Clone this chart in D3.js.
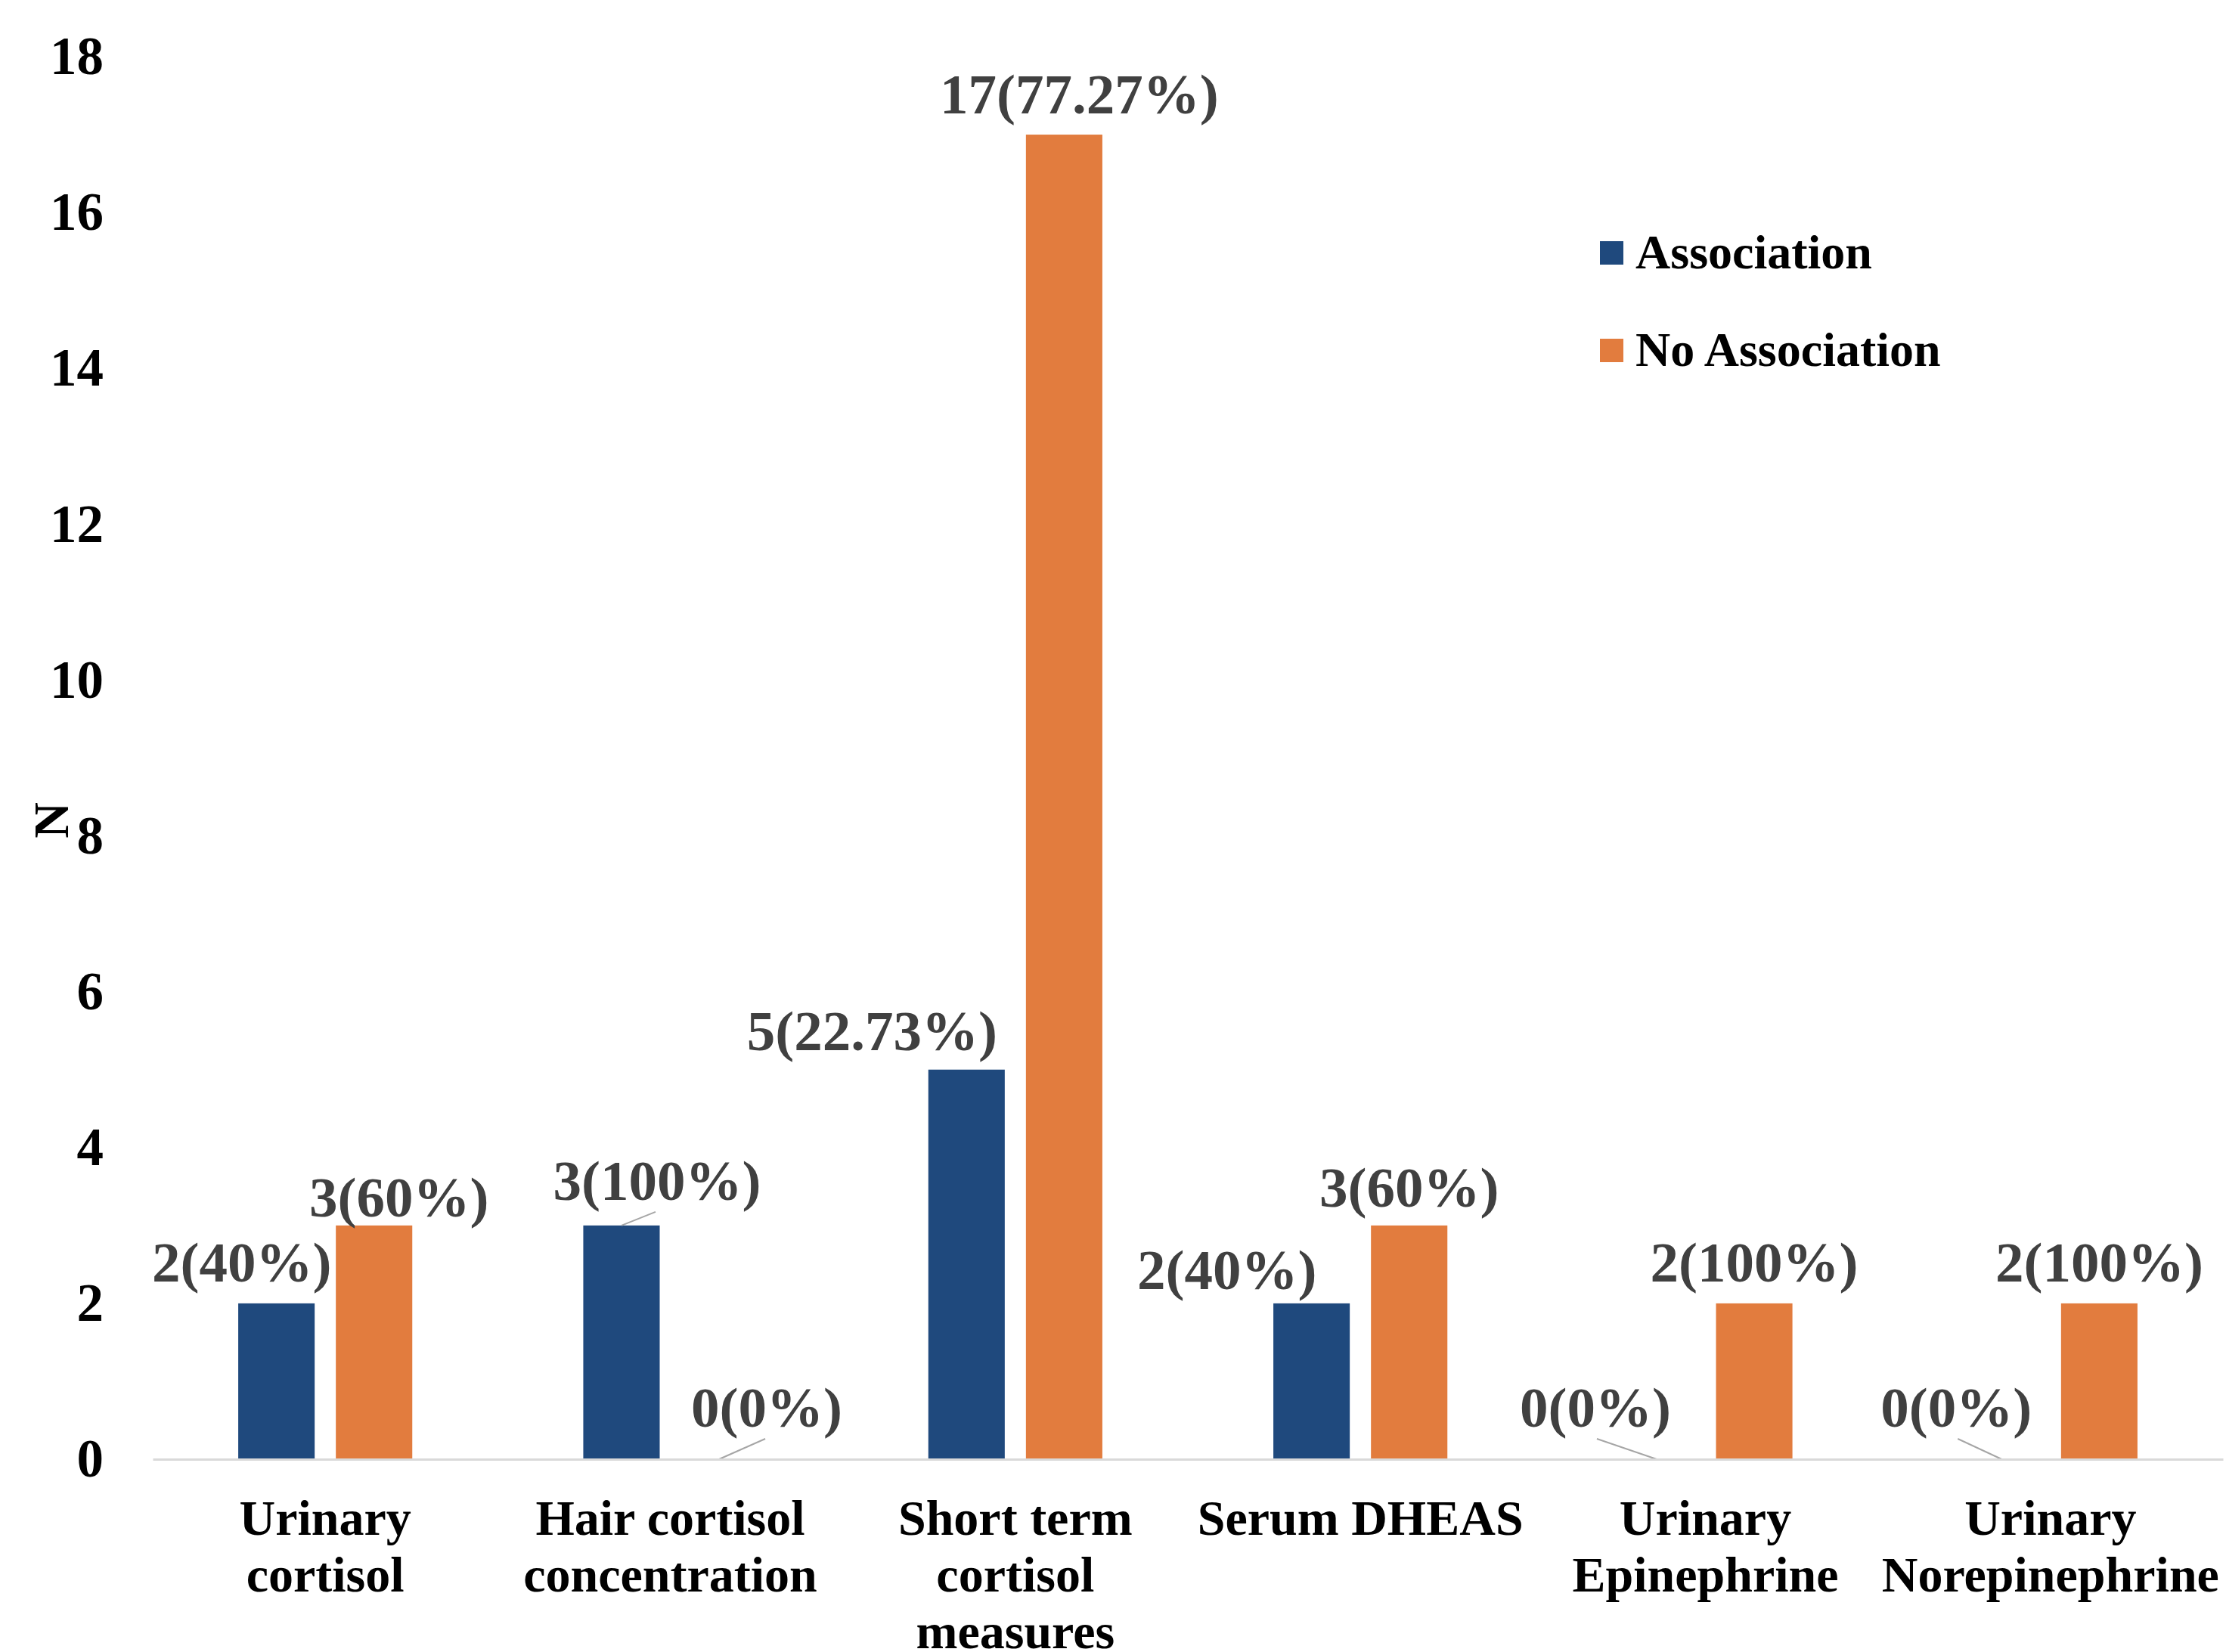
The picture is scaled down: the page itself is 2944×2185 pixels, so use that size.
<!DOCTYPE html>
<html>
<head>
<meta charset="utf-8">
<script src="https://cdn.jsdelivr.net/npm/d3@7"></script>
<style>
	body { margin: 0; background: #fff; }
	svg { display: block; font-family: "Liberation Serif", "Times New Roman", serif; font-weight: bold; }
</style>
</head>
<body>
<script>
'use strict'

// chart data
const categories = ['Urinary cortisol', 'Hair cortisol concentration', 'Short term cortisol measures', 'Serum DHEAS', 'Urinary Epinephrine', 'Urinary Norepinephrine'];
const categoryLines = [['Urinary', 'cortisol'], ['Hair cortisol', 'concentration'], ['Short term', 'cortisol', 'measures'], ['Serum DHEAS'], ['Urinary', 'Epinephrine'], ['Urinary', 'Norepinephrine']];
const series = ['Association', 'No Association'];
const association = [2, 3, 5, 2, 0, 0];
const noAssociation = [3, 0, 17, 3, 2, 2];
const associationLabels = ['2(40%)', '3(100%)', '5(22.73%)', '2(40%)', '0(0%)', '0(0%)'];
const noAssociationLabels = ['3(60%)', '0(0%)', '17(77.27%)', '3(60%)', '2(100%)', '2(100%)'];
const yTicks = [0, 2, 4, 6, 8, 10, 12, 14, 16, 18];

// hand-placed label offsets (px from bar top centre), as in the original
const associationOffsets = [[-46, -29], [47, -34], [-125, -26], [-112, -19], [-81, -43], [-60, -43]];
const noAssociationOffsets = [[33, -12], [63, -43], [20, -28], [0, -25], [0, -29], [0, -29]];
// leader lines drawn for labels moved away from their bar
const associationLeaders = [false, true, false, false, true, true];
const noAssociationLeaders = [false, true, false, false, false, false];

const colors = { 'Association': '#1f497d', 'No Association': '#e27c3e' };

const W = 2944, H = 2185;
const plot = { left: 202, right: 2940, top: 75, bottom: 1930 };

const svg = d3.select('body').append('svg')
	.attr('width', W)
	.attr('height', H);

const x0 = d3.scaleBand()
	.domain(categories)
	.range([plot.left, plot.right])
	.paddingInner(0)
	.paddingOuter(0);

const x1 = d3.scaleBand()
	.domain(series)
	.range([0, x0.bandwidth()])
	.paddingInner(0.217)
	.paddingOuter(0.876);

const y = d3.scaleLinear()
	.domain([0, 18])
	.range([plot.bottom, plot.top]);

// y axis tick labels
const yAxis = svg.append('g')
	.attr('transform', `translate(137,0)`)
	.call(d3.axisLeft(y).tickValues(yTicks).tickSize(0).tickPadding(0));
yAxis.select('.domain').remove();
yAxis.selectAll('text')
	.attr('fill', '#000')
	.style('font-size', '71px')
	.style('font-family', '"Liberation Serif", serif')
	.style('font-weight', 'bold');

// y axis title
svg.append('text')
	.attr('transform', 'translate(90,1085) rotate(-90)')
	.attr('text-anchor', 'middle')
	.style('font-size', '66px')
	.attr('fill', '#000')
	.text('N');

// bars
const rows = categories.map((c, i) => ({
	cat: c,
	values: [
		{ key: series[0], value: association[i], label: associationLabels[i], off: associationOffsets[i], leader: associationLeaders[i] },
		{ key: series[1], value: noAssociation[i], label: noAssociationLabels[i], off: noAssociationOffsets[i], leader: noAssociationLeaders[i] }
	]
}));

const groups = svg.selectAll('g.group')
	.data(rows)
	.enter().append('g')
	.classed('group', true)
	.attr('transform', d => `translate(${x0(d.cat)},0)`);

groups.selectAll('rect')
	.data(d => d.values)
	.enter().append('rect')
	.attr('x', d => x1(d.key))
	.attr('y', d => y(d.value))
	.attr('width', x1.bandwidth())
	.attr('height', d => y(0) - y(d.value))
	.attr('fill', d => colors[d.key]);

// baseline
const xAxis = svg.append('g')
	.attr('transform', `translate(0,${plot.bottom})`)
	.call(d3.axisBottom(x0).tickSize(0).tickPadding(0).tickFormat(''));
xAxis.select('.domain').attr('stroke', '#d9d9d9').attr('stroke-width', 3);

// leader lines
groups.selectAll('line.leader')
	.data(d => d.values.filter(v => v.leader))
	.enter().append('line')
	.classed('leader', true)
	.attr('x1', d => x1(d.key) + x1.bandwidth() / 2)
	.attr('y1', d => y(d.value))
	.attr('x2', d => x1(d.key) + x1.bandwidth() / 2 + d.off[0] + (d.off[0] > 0 ? -2 : 2))
	.attr('y2', d => y(d.value) + d.off[1] + 16)
	.attr('stroke', '#a6a6a6')
	.attr('stroke-width', 2);

// data labels
groups.selectAll('text.lbl')
	.data(d => d.values)
	.enter().append('text')
	.classed('lbl', true)
	.attr('x', d => x1(d.key) + x1.bandwidth() / 2 + d.off[0])
	.attr('y', d => y(d.value) + d.off[1])
	.attr('text-anchor', 'middle')
	.attr('fill', '#404040')
	.style('font-size', '75px')
	.text(d => d.label);

// category labels
const catText = svg.selectAll('text.cat')
	.data(categories)
	.enter().append('text')
	.classed('cat', true)
	.attr('x', d => x0(d) + x0.bandwidth() / 2)
	.attr('y', plot.bottom + 100)
	.attr('text-anchor', 'middle')
	.attr('fill', '#000')
	.style('font-size', '66px');

catText.selectAll('tspan')
	.data((d, i) => categoryLines[i])
	.enter().append('tspan')
	.attr('x', function() { return d3.select(this.parentNode).attr('x'); })
	.attr('dy', (d, i) => i === 0 ? 0 : 75)
	.text(d => d);

// legend
const legend = svg.append('g')
	.attr('transform', 'translate(2116,319)');

const legendItems = legend.selectAll('g')
	.data(series)
	.enter().append('g')
	.attr('transform', (d, i) => `translate(0,${i * 129})`);

legendItems.append('rect')
	.attr('width', 31)
	.attr('height', 31)
	.attr('fill', d => colors[d]);

legendItems.append('text')
	.attr('x', 47)
	.attr('y', 36)
	.attr('fill', '#000')
	.style('font-size', '64px')
	.text(d => d);
</script>
</body>
</html>
